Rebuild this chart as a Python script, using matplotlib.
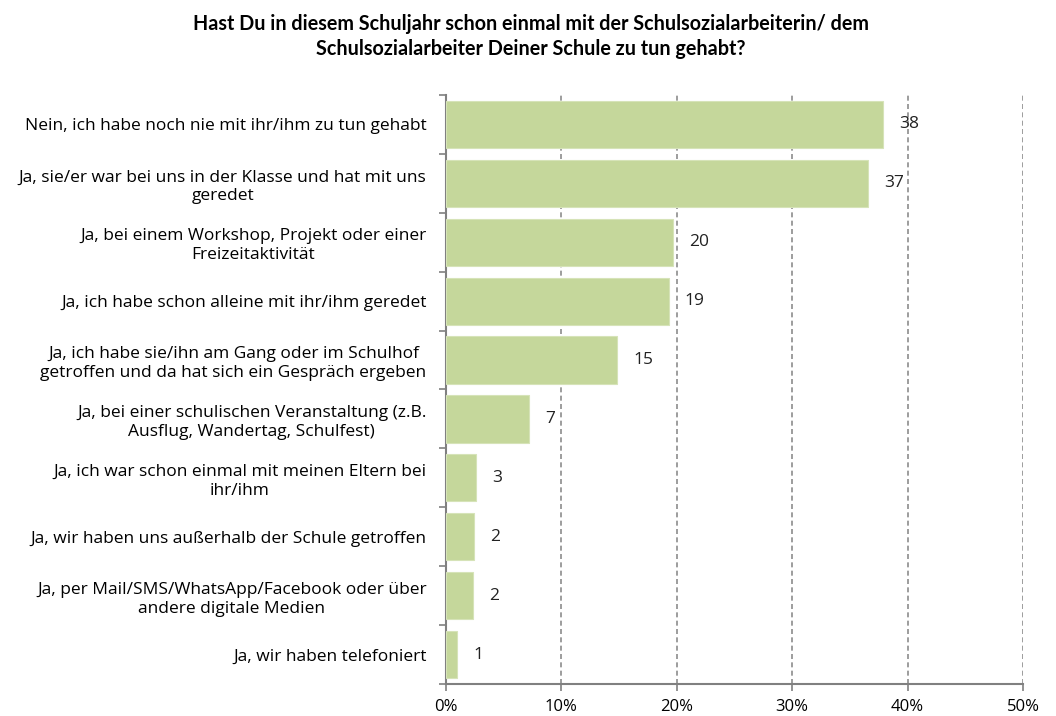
import numpy as np
import matplotlib.pyplot as plt

# answer categories, top to bottom
categories = [
    "Nein, ich habe noch nie mit ihr/ihm zu tun gehabt",
    "Ja, sie/er war bei uns in der Klasse und hat mit uns\ngeredet",
    "Ja, bei einem Workshop, Projekt oder einer\nFreizeitaktivität",
    "Ja, ich habe schon alleine mit ihr/ihm geredet",
    "Ja, ich habe sie/ihn am Gang oder im Schulhof\ngetroffen und da hat sich ein Gespräch ergeben",
    "Ja, bei einer schulischen Veranstaltung (z.B.\nAusflug, Wandertag, Schulfest)",
    "Ja, ich war schon einmal mit meinen Eltern bei\nihr/ihm",
    "Ja, wir haben uns außerhalb der Schule getroffen",
    "Ja, per Mail/SMS/WhatsApp/Facebook oder über\nandere digitale Medien",
    "Ja, wir haben telefoniert",
]
# percent values (bar lengths)
values = [37.9, 36.6, 19.7, 19.3, 14.8, 7.2, 2.6, 2.4, 2.3, 0.95]
xticks = [0, 10, 20, 30, 40, 50]

plt.rcParams['font.family'] = ['Open Sans', 'DejaVu Sans']

fig = plt.figure(figsize=(10.56, 7.16), dpi=100)
ax = fig.add_axes([446/1056, 1-684/716, (1023-446)/1056, (684-95)/716])

y = np.arange(len(categories))
ax.barh(y, values, height=0.8, color='#c5d79b', edgecolor='#d6e3b8', linewidth=0.8, zorder=3)

for yi, v in zip(y, values):
    ax.text(v + 1.4, yi, str(int(round(v))), va='center', ha='left', fontsize=12.5, color='#222222', zorder=4)

ax.set_ylim(len(categories) - 0.5, -0.5)
ax.set_xlim(0, 50)
ax.set_xticks(xticks)
ax.set_xticklabels([f"{t}%" for t in xticks], fontsize=12)
ax.set_yticks(y)
ax.set_yticklabels(categories, fontsize=12.5, linespacing=1.25, multialignment='center')
ax.set_yticks(np.arange(-0.5, len(categories)), minor=True)

ax.tick_params(axis='y', which='major', length=0, pad=14)
ax.tick_params(axis='y', which='minor', length=5, color='#808080', width=1.2, direction='out')
ax.tick_params(axis='x', length=5, color='#808080', width=1.2, direction='out', pad=6)

for x in xticks[1:]:
    ax.axvline(x, color='#8c8c8c', linestyle=(0, (3, 2)), linewidth=1.2, zorder=1)

for s in ['top', 'right']:
    ax.spines[s].set_visible(False)
for s in ['left', 'bottom']:
    ax.spines[s].set_color('#808080')
    ax.spines[s].set_linewidth(1.5)

fig.text(0.503, 0.98,
         "Hast Du in diesem Schuljahr schon einmal mit der Schulsozialarbeiterin/ dem\nSchulsozialarbeiter Deiner Schule zu tun gehabt?",
         ha='center', va='top', fontsize=14.2, fontweight='bold',
         family=['Lato', 'DejaVu Sans'], linespacing=1.3)

plt.savefig('out.png', dpi=100)
